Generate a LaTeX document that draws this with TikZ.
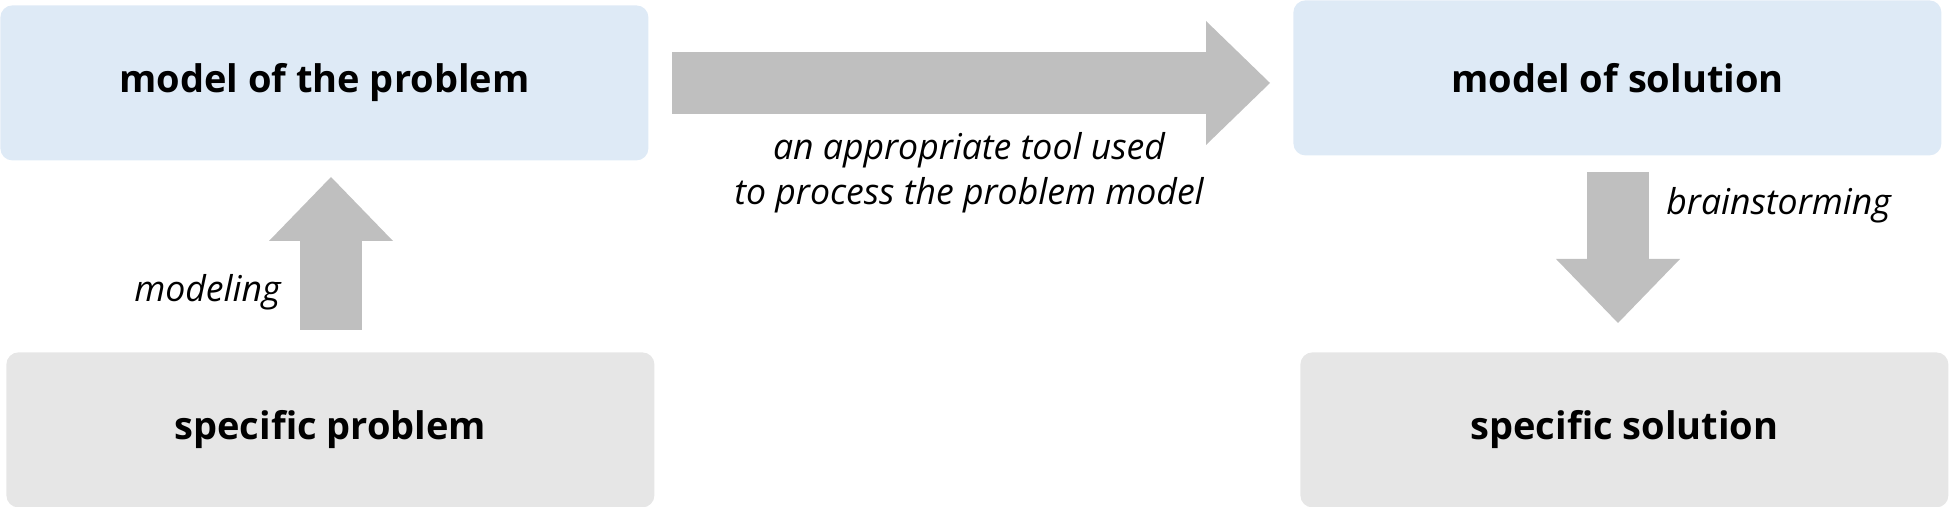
\documentclass[tikz,border=0pt]{standalone}
\usepackage{fontspec}
\setmainfont{Open Sans}
\usetikzlibrary{arrows.meta}
\definecolor{modelblue}{HTML}{DEEAF6}
\definecolor{specgray}{HTML}{E6E6E6}
\definecolor{arrowgray}{HTML}{BFBFBF}
\begin{document}
\begin{tikzpicture}[x=0.5pt,y=-0.5pt,
  card/.style={rounded corners=6pt, inner sep=0pt, anchor=north west,
    minimum width=324pt, minimum height=77.5pt,
    font=\fontsize{19}{22}\selectfont\bfseries, text=black},
  modelcard/.style={card, fill=modelblue},
  speccard/.style={card, fill=specgray},
  blockarrow/.style={draw=arrowgray, line width=31pt,
    -{Triangle[length=32pt,width=62pt,line width=0pt]}},
  note/.style={font=\fontsize{17.8}{22.5}\selectfont\itshape, inner sep=0pt}]
\useasboundingbox (0,0) rectangle (1950,507);
\node[modelcard] (mp) at (0,5) {model of the problem};
\node[modelcard] (ms) at (1293,0) {model of solution};
\node[speccard] (sp) at (6,352) {specific problem};
\node[speccard] (ss) at (1300,352) {specific solution};
\coordinate (ra) at (672,83);
\coordinate (rb) at (1270,83);
\draw[blockarrow] (ra) -- (rb);
\node[note, align=center] (tool) at (969,173) {an appropriate tool used\\to process the problem model};
\coordinate (ua) at (331,330);
\coordinate (ub) at (331,177);
\draw[blockarrow] (ua) -- (ub);
\node[note, anchor=east] (modeling) at (281,292) {modeling};
\coordinate (da) at (1618,172);
\coordinate (db) at (1618,323);
\draw[blockarrow] (da) -- (db);
\node[note, anchor=west] (brain) at (1666,205) {brainstorming};
\end{tikzpicture}
\end{document}
